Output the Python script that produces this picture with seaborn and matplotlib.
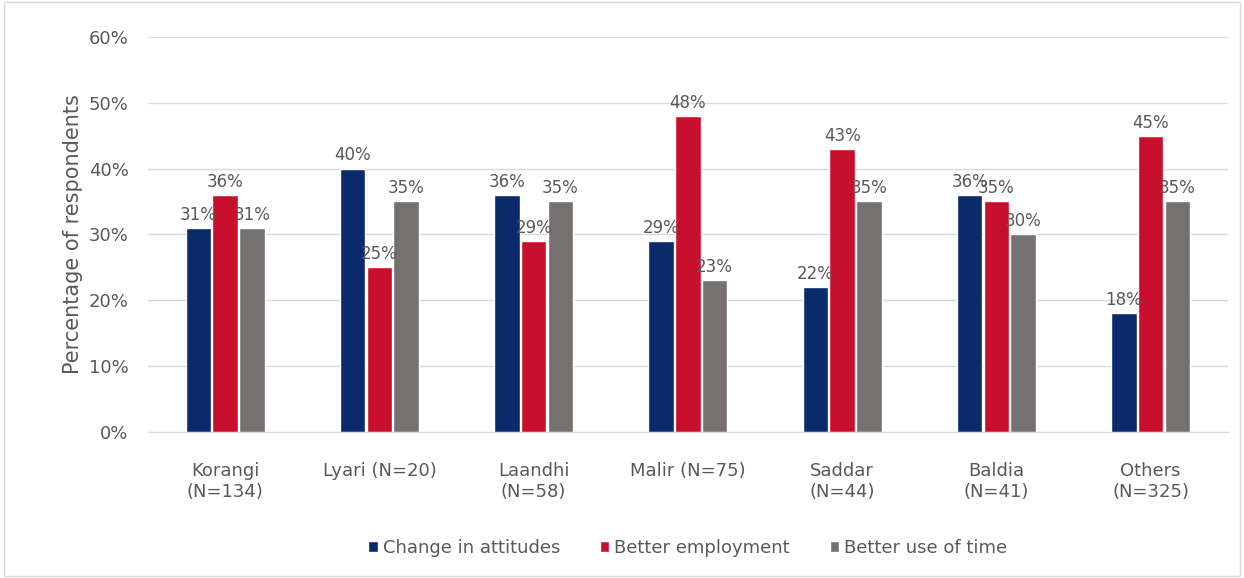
import pandas as pd
import matplotlib.pyplot as plt
import seaborn as sns
from matplotlib.ticker import PercentFormatter

districts = ['Korangi\n(N=134)', 'Lyari (N=20)', 'Laandhi\n(N=58)', 'Malir (N=75)',
             'Saddar\n(N=44)', 'Baldia\n(N=41)', 'Others\n(N=325)']
series = ['Change in attitudes', 'Better employment', 'Better use of time']
attitudes = [31, 40, 36, 29, 22, 36, 18]
employment = [36, 25, 29, 48, 43, 35, 45]
use_of_time = [31, 35, 35, 23, 35, 30, 35]

df = pd.DataFrame({'district': districts * 3,
                   'series': [s for s in series for _ in districts],
                   'value': attitudes + employment + use_of_time})

colors = {'Change in attitudes': '#0b2a6b',
          'Better employment': '#c8102e',
          'Better use of time': '#767171'}

sns.set_style('white')
plt.rcParams['font.family'] = ['DejaVu Sans']
txt = '#595959'

fig = plt.figure(figsize=(12.44, 5.78), dpi=100)
ax = fig.add_axes([0.119, 0.253, 0.868, 0.683])
sns.barplot(data=df, x='district', y='value', hue='series', palette=colors,
            width=0.52, gap=0.05, saturation=1, ax=ax)

for cont in ax.containers:
    ax.bar_label(cont, labels=[f'{v:.0f}%' for v in cont.datavalues],
                 padding=3, fontsize=12, color=txt)

ax.set_ylim(0, 60)
ax.set_yticks(range(0, 61, 10))
ax.yaxis.set_major_formatter(PercentFormatter(decimals=0))
ax.grid(axis='y', color='#d9d9d9', linewidth=1)
ax.set_axisbelow(True)
sns.despine(ax=ax, left=True)
ax.spines['bottom'].set_color('#d9d9d9')
ax.tick_params(axis='both', length=0, labelsize=13, labelcolor=txt)
ax.tick_params(axis='x', pad=22)
ax.tick_params(axis='y', pad=14)
ax.set_xlabel('')
ax.set_ylabel('Percentage of respondents', fontsize=15, color=txt, labelpad=4)

ax.legend(loc='upper center', bbox_to_anchor=(0.5, -0.23), ncol=3, frameon=False,
          fontsize=13, labelcolor=txt, handlelength=0.5, handleheight=0.5,
          handletextpad=0.3, columnspacing=2.2)

fig.patches.append(plt.Rectangle((0.003, 0.003), 0.994, 0.994, transform=fig.transFigure,
                                 fill=False, edgecolor='#d9d9d9', linewidth=1))
fig.savefig('out.png', dpi=100)
